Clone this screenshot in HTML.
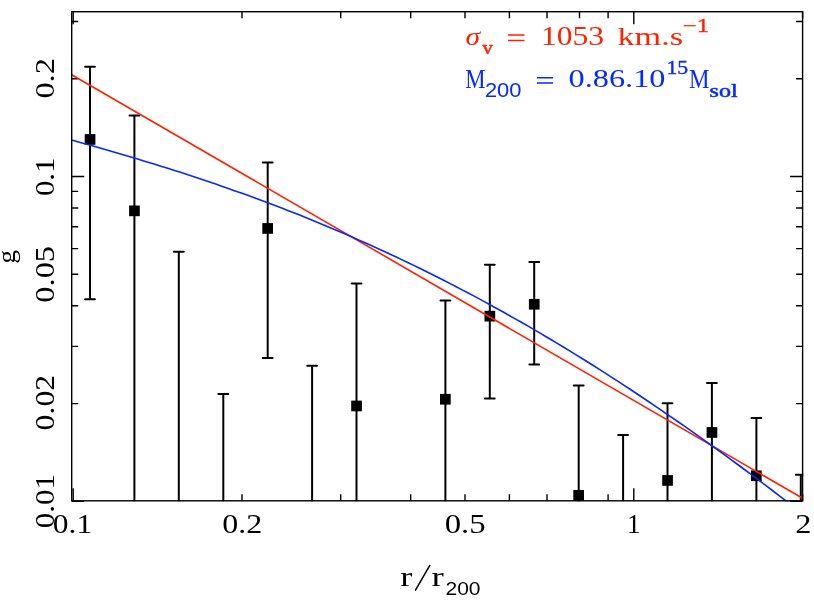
<!DOCTYPE html>
<html><head><meta charset="utf-8"><title>g profile</title>
<style>html,body{margin:0;padding:0;background:#fff;}svg{display:block;will-change:transform;}text{font-family:"Liberation Serif",serif;}text.s{font-family:"Liberation Sans",sans-serif;}text.b{font-weight:bold;}text.i{font-style:italic;}text.m{stroke-width:0.5px;}text.n{stroke-width:0.35px;}</style></head><body>
<svg width="814" height="604" viewBox="0 0 814 604">
<rect x="0" y="0" width="814" height="604" fill="#fff"/>
<path d="M73.2 500.8v-12.5M73.2 11.7v12.5M242.0 500.8v-6.5M242.0 11.7v6.5M340.7 500.8v-6.5M340.7 11.7v6.5M410.7 500.8v-6.5M410.7 11.7v6.5M465.0 500.8v-6.5M465.0 11.7v6.5M509.4 500.8v-6.5M509.4 11.7v6.5M547.0 500.8v-6.5M547.0 11.7v6.5M579.5 500.8v-6.5M579.5 11.7v6.5M608.1 500.8v-6.5M608.1 11.7v6.5M633.8 500.8v-12.5M633.8 11.7v12.5M802.6 500.8v-6.5M802.6 11.7v6.5M71.7 501.4h12.5M802.6 501.4h-12.5M71.7 403.6h6.5M802.6 403.6h-6.5M71.7 346.4h6.5M802.6 346.4h-6.5M71.7 305.8h6.5M802.6 305.8h-6.5M71.7 274.3h6.5M802.6 274.3h-6.5M71.7 248.6h6.5M802.6 248.6h-6.5M71.7 226.8h6.5M802.6 226.8h-6.5M71.7 208.0h6.5M802.6 208.0h-6.5M71.7 191.4h6.5M802.6 191.4h-6.5M71.7 176.5h12.5M802.6 176.5h-12.5M71.7 78.7h6.5M802.6 78.7h-6.5M71.7 21.5h6.5M802.6 21.5h-6.5" stroke="#000" stroke-width="1.4" fill="none"/>
<clipPath id="c"><rect x="71.0" y="11.0" width="732.3" height="490.5"/></clipPath>
<g clip-path="url(#c)"><path d="M90.0 66.7V299.3M85.1 66.7h9.8M85.1 299.3h9.8M134.4 115.4V500.8M129.5 115.4h9.8M178.8 251.8V500.8M173.9 251.8h9.8M223.3 394.0V500.8M218.4 394.0h9.8M267.7 162.4V358.0M262.8 162.4h9.8M262.8 358.0h9.8M312.1 365.7V500.8M307.2 365.7h9.8M356.5 283.4V500.8M351.6 283.4h9.8M445.4 300.6V500.8M440.5 300.6h9.8M489.8 264.8V398.5M484.9 264.8h9.8M484.9 398.5h9.8M534.2 262.0V364.4M529.4 262.0h9.8M529.4 364.4h9.8M578.7 385.6V500.8M573.8 385.6h9.8M623.1 435.0V500.8M618.2 435.0h9.8M667.5 403.2V500.8M662.6 403.2h9.8M711.9 382.9V500.8M707.0 382.9h9.8M756.4 418.1V500.8M751.5 418.1h9.8M800.8 474.7V500.8M795.9 474.7h9.8" stroke="#000" stroke-width="2" stroke-linecap="round" fill="none"/>
<g fill="#000"><rect x="84.7" y="134.1" width="10.7" height="10.7"/><rect x="129.1" y="205.5" width="10.7" height="10.7"/><rect x="262.3" y="223.1" width="10.7" height="10.7"/><rect x="351.2" y="400.6" width="10.7" height="10.7"/><rect x="440.0" y="393.9" width="10.7" height="10.7"/><rect x="484.5" y="310.8" width="10.7" height="10.7"/><rect x="528.9" y="298.9" width="10.7" height="10.7"/><rect x="573.3" y="490.0" width="10.7" height="10.7"/><rect x="662.2" y="475.1" width="10.7" height="10.7"/><rect x="706.6" y="427.1" width="10.7" height="10.7"/><rect x="751.0" y="470.4" width="10.7" height="10.7"/></g>
<path d="M71.7 74.7L802.6 498.3" stroke="#ff2200" stroke-width="1.6" fill="none"/>
<path d="M71.7 140.1L77.7 141.8L83.7 143.5L89.7 145.1L95.7 146.8L101.7 148.5L107.7 150.2L113.7 152.0L119.7 153.7L125.7 155.5L131.7 157.3L137.7 159.1L143.7 160.9L149.7 162.7L155.7 164.6L161.7 166.4L167.7 168.3L173.7 170.2L179.7 172.1L185.7 174.1L191.7 176.0L197.7 178.0L203.7 180.0L209.7 182.0L215.7 184.1L221.7 186.2L227.7 188.2L233.7 190.4L239.7 192.5L245.7 194.6L251.7 196.8L257.7 199.0L263.7 201.3L269.7 203.5L275.7 205.8L281.7 208.1L287.7 210.4L293.7 212.8L299.7 215.1L305.7 217.5L311.7 220.0L317.7 222.4L323.7 224.9L329.7 227.4L335.7 229.9L341.7 232.5L347.7 235.1L353.7 237.7L359.7 240.4L365.7 243.0L371.7 245.7L377.7 248.4L383.7 251.2L389.7 254.0L395.7 256.8L401.7 259.6L407.7 262.5L413.7 265.4L419.7 268.3L425.7 271.3L431.7 274.2L437.7 277.3L443.7 280.3L449.7 283.4L455.7 286.5L461.7 289.6L467.7 292.7L473.7 295.9L479.7 299.1L485.7 302.4L491.7 305.7L497.7 309.0L503.7 312.3L509.7 315.7L515.7 319.1L521.7 322.5L527.7 325.9L533.7 329.4L539.7 332.9L545.7 336.5L551.7 340.0L557.7 343.6L563.7 347.2L569.7 350.9L575.7 354.6L581.7 358.3L587.7 362.0L593.7 365.8L599.7 369.6L605.7 373.4L611.7 377.3L617.7 381.2L623.7 385.1L629.7 389.0L635.7 393.0L641.7 397.0L647.7 401.0L653.7 405.1L659.7 409.1L665.7 413.3L671.7 417.4L677.7 421.5L683.7 425.7L689.7 429.9L695.7 434.2L701.7 438.4L707.7 442.7L713.7 447.0L719.7 451.4L725.7 455.7L731.7 460.1L737.7 464.5L743.7 469.0L749.7 473.4L755.7 477.9L761.7 482.4L767.7 486.9L773.7 491.5L779.7 496.1L785.7 500.7L791.7 505.3" stroke="#0529ff" stroke-width="1.6" fill="none" stroke-linejoin="round"/></g>
<rect x="71.7" y="11.7" width="730.9" height="489.1" stroke="#000" stroke-width="1.4" fill="none"/>
<text transform="translate(52.82 532.80) scale(1.174 1)" font-size="26.91" fill="#000" >0.1</text>
<text transform="translate(222.30 532.80) scale(1.191 1)" font-size="26.91" fill="#000" >0.2</text>
<text transform="translate(444.67 532.80) scale(1.217 1)" font-size="26.91" fill="#000" >0.5</text>
<text transform="translate(627.04 532.90) scale(0.988 1)" font-size="27.27" fill="#000" >1</text>
<text transform="translate(795.15 532.90) scale(1.187 1)" font-size="27.17" fill="#000" >2</text>
<text transform="translate(53.88 98.61) rotate(-90) scale(1.147 1)" font-size="28.24" fill="#000" >0.2</text>
<text transform="translate(53.88 196.06) rotate(-90) scale(1.091 1)" font-size="28.24" fill="#000" >0.1</text>
<text transform="translate(53.88 302.72) rotate(-90) scale(1.150 1)" font-size="28.24" fill="#000" >0.05</text>
<text transform="translate(53.88 430.39) rotate(-90) scale(1.124 1)" font-size="28.24" fill="#000" >0.02</text>
<text transform="translate(53.88 528.26) rotate(-90) scale(1.099 1)" font-size="28.24" fill="#000" >0.01</text>
<text transform="translate(14.61 263.78) rotate(-90) scale(1.084 1)" font-size="25.52" fill="#000" >g</text>
<text transform="translate(400.27 585.80) scale(1.358 1)" font-size="26.81" fill="#000" >r</text>
<path d="M415.5 590.2L429.8 565.3" stroke="#000" stroke-width="1.5" stroke-linecap="round" fill="none"/>
<text transform="translate(431.56 585.80) scale(1.382 1)" font-size="26.81" fill="#000" >r</text>
<text transform="translate(445.45 594.91) scale(1.093 1)" font-size="19.22" fill="#000" class="s">200</text>
<text transform="translate(465.51 44.95) scale(1.205 1)" font-size="24.64" fill="#ff2200" class="i">σ</text>
<text transform="translate(482.20 54.41) scale(1.105 1)" font-size="19.36" fill="#ff2200" stroke="#ff2200" class="m">v</text>
<path d="M507.9 34.9H524.5M507.9 40.4H524.5" stroke="#ff2200" stroke-width="1.5" fill="none"/>
<text transform="translate(540.93 45.13) scale(1.192 1)" font-size="26.52" fill="#ff2200" >1053</text>
<text transform="translate(617.42 45.02) scale(1.343 1)" font-size="25.49" fill="#ff2200" >km.s</text>
<text transform="translate(682.86 32.20) scale(1.337 1)" font-size="18.48" fill="#ff2200" stroke="#ff2200" class="n">−1</text>
<text transform="translate(465.22 88.20) scale(0.857 1)" font-size="26.56" fill="#0529ff" >M</text>
<text transform="translate(484.91 97.10) scale(1.123 1)" font-size="19.51" fill="#0529ff" class="s">200</text>
<path d="M537.0 77.8H553.1M537.0 82.9H553.1" stroke="#0529ff" stroke-width="1.5" fill="none"/>
<text transform="translate(568.59 87.42) scale(1.270 1)" font-size="25.44" fill="#0529ff" >0.86.10</text>
<text transform="translate(666.49 74.42) scale(1.186 1)" font-size="18.36" fill="#0529ff" stroke="#0529ff" class="n">15</text>
<text transform="translate(689.11 87.80) scale(0.871 1)" font-size="26.41" fill="#0529ff" >M</text>
<text transform="translate(709.54 96.62) scale(1.323 1)" font-size="18.16" fill="#0529ff" stroke="#0529ff" class="m">sol</text>
</svg></body></html>
